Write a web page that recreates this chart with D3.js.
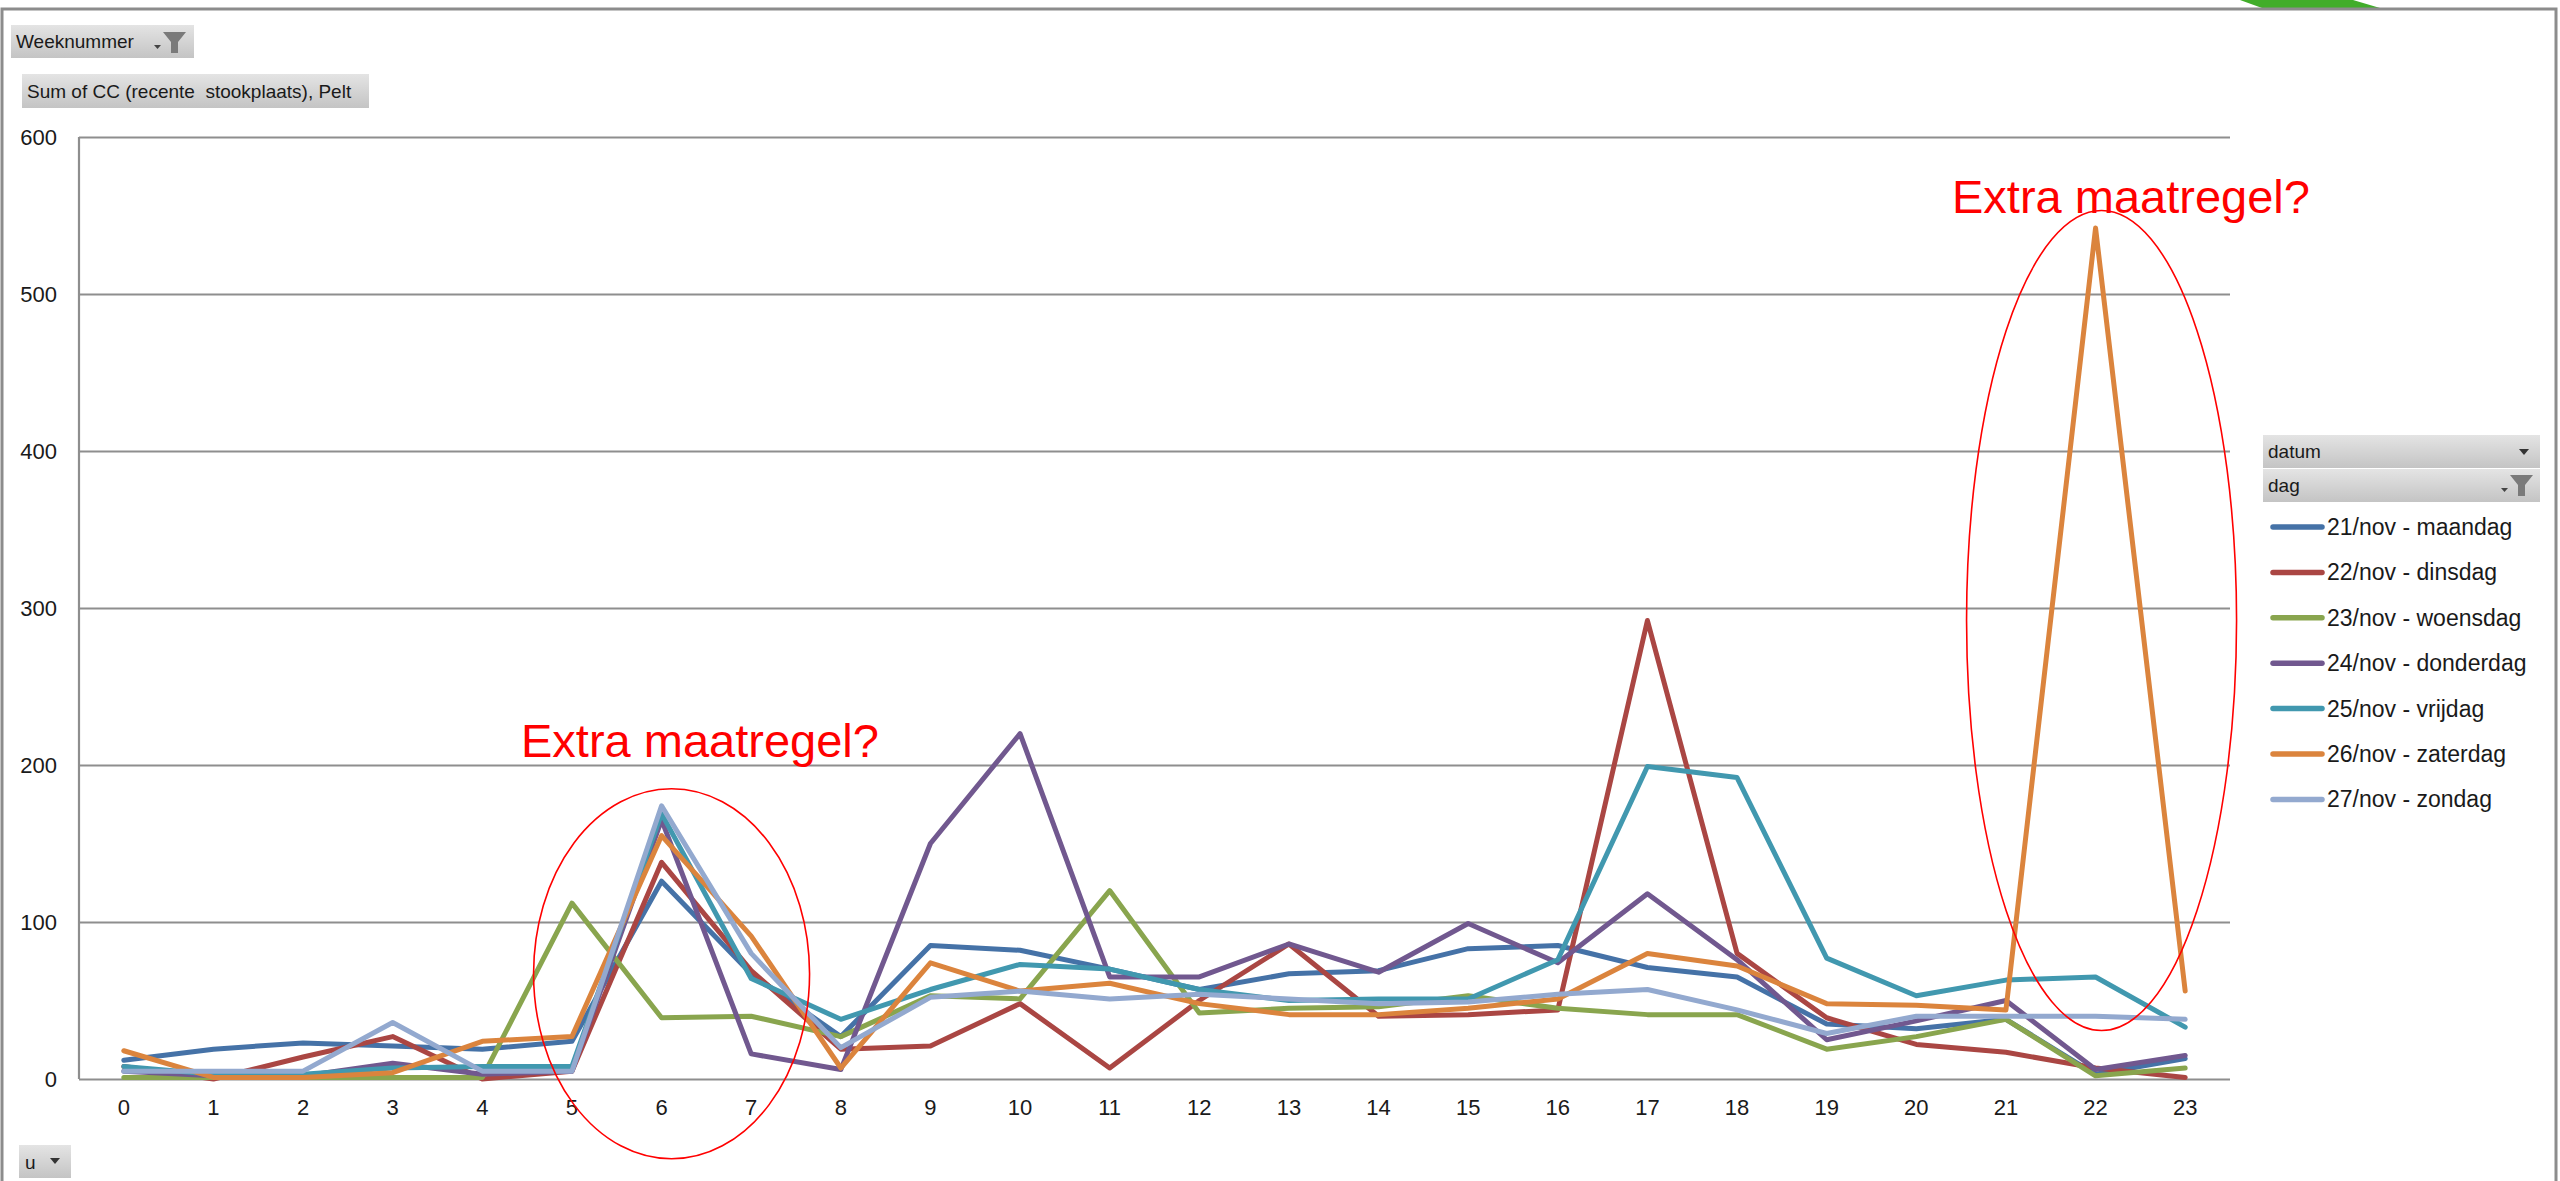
<!DOCTYPE html>
<html>
<head>
<meta charset="utf-8">
<script src="https://cdn.jsdelivr.net/npm/d3@7"></script>
<style>
  html, body { margin: 0; padding: 0; background: #ffffff; }
  svg { display: block; font-family: "Liberation Sans", Arial, sans-serif; }
</style>
</head>
<body>
<svg id="chart" width="2560" height="1181"></svg>
<script>
// ---------- DATA ----------
const hours = d3.range(0, 24);
const yTicks = [0, 100, 200, 300, 400, 500, 600];
const seriesNames = [
  "21/nov - maandag", "22/nov - dinsdag", "23/nov - woensdag", "24/nov - donderdag",
  "25/nov - vrijdag", "26/nov - zaterdag", "27/nov - zondag"
];
const seriesColors = ["#4572A7", "#AA4643", "#89A54E", "#71588F", "#4198AF", "#DB843D", "#93A9CF"];
const maandag   = [12, 19, 23, 21, 19, 24, 126, 67, 27, 85, 82, 70, 57, 67, 69, 83, 85, 71, 65, 35, 32, 38, 3, 13];
const dinsdag   = [8, 0, 14, 27, 0, 5, 138, 69, 19, 21, 48, 7, 50, 86, 40, 41, 44, 292, 80, 39, 22, 17, 7, 1];
const woensdag  = [1, 1, 1, 1, 1, 112, 39, 40, 27, 53, 51, 120, 42, 45, 46, 53, 45, 41, 41, 19, 27, 38, 2, 7];
const donderdag = [5, 2, 2, 10, 3, 5, 165, 16, 6, 150, 220, 65, 65, 86, 68, 99, 74, 118, 76, 25, 37, 50, 6, 15];
const vrijdag   = [8, 3, 3, 7, 8, 8, 169, 64, 38, 57, 73, 70, 57, 50, 51, 51, 76, 199, 192, 77, 53, 63, 65, 33];
const zaterdag  = [18, 1, 1, 4, 24, 27, 155, 91, 7, 74, 56, 61, 48, 41, 41, 45, 51, 80, 72, 48, 47, 44, 542, 56];
const zondag    = [5, 5, 5, 36, 5, 5, 174, 80, 20, 52, 56, 51, 54, 51, 48, 49, 54, 57, 44, 29, 40, 40, 40, 38];
const allSeries = [maandag, dinsdag, woensdag, donderdag, vrijdag, zaterdag, zondag];
const annotationText = "Extra maatregel?";

// ---------- LAYOUT ----------
const svg = d3.select("#chart");
const plot = { left: 79, right: 2230, top: 137, bottom: 1079 };
const x = d3.scaleBand().domain(hours).range([plot.left, plot.right]).padding(0);
const xc = h => x(h) + x.bandwidth() / 2;
const y = d3.scaleLinear().domain([0, 600]).range([plot.bottom, plot.top]);
const textColor = "#1a1a1a";
const gridColor = "#8e8e8e";

// defs: button gradient
const defs = svg.append("defs");
const grad = defs.append("linearGradient").attr("id", "btn").attr("x1", 0).attr("y1", 0).attr("x2", 0).attr("y2", 1);
grad.append("stop").attr("offset", "0%").attr("stop-color", "#e4e4e4");
grad.append("stop").attr("offset", "100%").attr("stop-color", "#c4c4c4");

// green decoration at very top
svg.append("polygon")
  .attr("points", "2240,0 2353,0 2380,8 2262,8")
  .attr("fill", "#41ad2a");

// outer frame
svg.append("rect")
  .attr("x", 2).attr("y", 9).attr("width", 2554).attr("height", 1190)
  .attr("fill", "none").attr("stroke", "#8c8c8c").attr("stroke-width", 3);

// ---------- GRID & AXES ----------
const gY = svg.append("g").attr("class", "y-axis")
  .call(d3.axisLeft(y).tickValues(yTicks).tickSize(-(plot.right - plot.left)).tickPadding(22).tickSizeOuter(0))
  .attr("transform", `translate(${plot.left},0)`);
gY.select(".domain").remove();
gY.selectAll(".tick line").attr("stroke", gridColor).attr("stroke-width", 2.2);
gY.selectAll(".tick text").attr("font-size", 22).attr("fill", textColor)
  .attr("font-family", "\"Liberation Sans\", Arial, sans-serif");

// left axis line
svg.append("line")
  .attr("x1", plot.left).attr("x2", plot.left)
  .attr("y1", y(600)).attr("y2", y(0))
  .attr("stroke", gridColor).attr("stroke-width", 2.2);

const gX = svg.append("g").attr("class", "x-axis")
  .attr("transform", `translate(0,${plot.bottom})`)
  .call(d3.axisBottom(x).tickSize(0).tickPadding(20));
gX.select(".domain").remove();
gX.selectAll(".tick text").attr("font-size", 22).attr("fill", textColor)
  .attr("font-family", "\"Liberation Sans\", Arial, sans-serif");

// ---------- LINES ----------
const line = d3.line().x((d, i) => xc(hours[i])).y(d => y(d));
svg.append("g").selectAll("path")
  .data(allSeries)
  .join("path")
  .attr("d", d => line(d))
  .attr("fill", "none")
  .attr("stroke", (d, i) => seriesColors[i])
  .attr("stroke-width", 5)
  .attr("stroke-linejoin", "round")
  .attr("stroke-linecap", "round");

// ---------- ANNOTATIONS ----------
svg.append("ellipse")
  .attr("cx", xc(6) + 10).attr("cy", y(67)).attr("rx", 138).attr("ry", 185)
  .attr("fill", "none").attr("stroke", "#ff0000").attr("stroke-width", 1.6);
svg.append("ellipse")
  .attr("cx", xc(22) + 6).attr("cy", y(292)).attr("rx", 135).attr("ry", 410)
  .attr("fill", "none").attr("stroke", "#ff0000").attr("stroke-width", 1.6);
svg.append("text")
  .attr("x", 521).attr("y", 757)
  .attr("font-size", 47).attr("fill", "#ff0000").text(annotationText);
svg.append("text")
  .attr("x", 1952).attr("y", 213)
  .attr("font-size", 47).attr("fill", "#ff0000").text(annotationText);

// ---------- BUTTONS ----------
function funnel(g, x0, y0) {
  g.append("polygon")
    .attr("points", `${x0},${y0} ${x0 + 23},${y0} ${x0 + 15},${y0 + 10} ${x0 + 15},${y0 + 21} ${x0 + 8},${y0 + 21} ${x0 + 8},${y0 + 10}`)
    .attr("fill", "#7a7a7a");
  g.append("polygon")
    .attr("points", `${x0 - 9},${y0 + 13} ${x0 - 2},${y0 + 13} ${x0 - 5.5},${y0 + 17}`)
    .attr("fill", "#444");
}
function dropArrow(g, cx, cy) {
  g.append("polygon")
    .attr("points", `${cx - 5},${cy - 3} ${cx + 5},${cy - 3} ${cx},${cy + 3}`)
    .attr("fill", "#333");
}

const ui = svg.append("g");
// Weeknummer
ui.append("rect").attr("x", 11).attr("y", 25).attr("width", 183).attr("height", 33).attr("fill", "url(#btn)");
ui.append("text").attr("x", 16).attr("y", 48).attr("font-size", 19).attr("fill", textColor).text("Weeknummer");
funnel(ui, 163, 32);
// Sum of CC
ui.append("rect").attr("x", 22).attr("y", 74).attr("width", 347).attr("height", 34).attr("fill", "url(#btn)");
ui.append("text").attr("x", 27).attr("y", 98).attr("font-size", 19).attr("fill", textColor).text("Sum of CC (recente  stookplaats), Pelt")
  .attr("xml:space", "preserve").style("white-space", "pre");
// u button
ui.append("rect").attr("x", 19).attr("y", 1145).attr("width", 52).attr("height", 33).attr("fill", "url(#btn)");
ui.append("text").attr("x", 25).attr("y", 1169).attr("font-size", 19).attr("fill", textColor).text("u");
dropArrow(ui, 55, 1161);
// datum / dag
ui.append("rect").attr("x", 2263).attr("y", 435).attr("width", 277).attr("height", 33).attr("fill", "url(#btn)");
ui.append("text").attr("x", 2268).attr("y", 458).attr("font-size", 19).attr("fill", textColor).text("datum");
dropArrow(ui, 2524, 452);
ui.append("rect").attr("x", 2263).attr("y", 469).attr("width", 277).attr("height", 33).attr("fill", "url(#btn)");
ui.append("text").attr("x", 2268).attr("y", 492).attr("font-size", 19).attr("fill", textColor).text("dag");
funnel(ui, 2510, 475);

// ---------- LEGEND ----------
const legend = svg.append("g").selectAll("g")
  .data(seriesNames)
  .join("g")
  .attr("transform", (d, i) => `translate(0,${527 + i * 45.4})`);
legend.append("line")
  .attr("x1", 2273).attr("x2", 2322).attr("y1", 0).attr("y2", 0)
  .attr("stroke", (d, i) => seriesColors[i]).attr("stroke-width", 5.5).attr("stroke-linecap", "round");
legend.append("text")
  .attr("x", 2327).attr("y", 0).attr("dy", "0.35em")
  .attr("font-size", 23).attr("fill", textColor).text(d => d);
</script>
</body>
</html>
